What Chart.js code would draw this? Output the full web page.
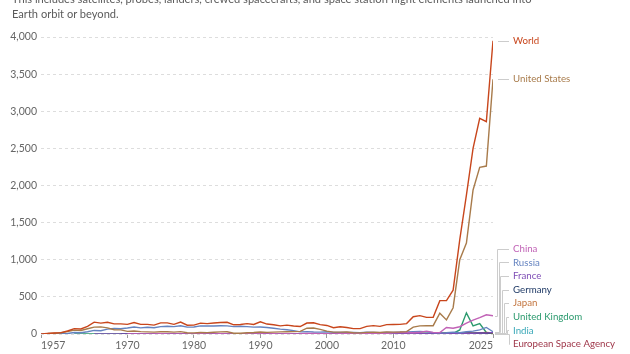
<!DOCTYPE html>
<html>
<head>
<meta charset="utf-8">
<script src="https://cdn.jsdelivr.net/npm/chart.js@4"></script>
<style>
  html, body { margin: 0; padding: 0; background: #fff; }
  #wrap { position: relative; width: 630px; height: 354px; overflow: hidden; }
  #subtitle {
    position: absolute; left: 12px; top: -9px; width: 600px;
    font-family: Lato, sans-serif; font-size: 11.1px; line-height: 15px; color: #5b5b5b;
  }
</style>
</head>
<body>
<div id="wrap">
  <canvas id="chart" width="630" height="354"></canvas>
  <div id="subtitle">This includes satellites, probes, landers, crewed spacecrafts, and space station flight elements launched into<br>Earth orbit or beyond.</div>
</div>
<script>
// Anos (1957 a 2025)
const years = [
  1957, 1958, 1959, 1960, 1961, 1962, 1963, 1964, 1965, 1966, 1967, 1968, 1969,
  1970, 1971, 1972, 1973, 1974, 1975, 1976, 1977, 1978, 1979,
  1980, 1981, 1982, 1983, 1984, 1985, 1986, 1987, 1988, 1989,
  1990, 1991, 1992, 1993, 1994, 1995, 1996, 1997, 1998, 1999,
  2000, 2001, 2002, 2003, 2004, 2005, 2006, 2007, 2008, 2009,
  2010, 2011, 2012, 2013, 2014, 2015, 2016, 2017, 2018, 2019,
  2020, 2021, 2022, 2023, 2024, 2025
];
const xTicks = [1957, 1970, 1980, 1990, 2000, 2010, 2025];
const yTicks = [0, 500, 1000, 1500, 2000, 2500, 3000, 3500, 4000];

// Objetos lançados por ano
const world = [
  2, 8, 14, 19, 40, 72, 68, 104, 160, 147, 158, 137, 136,
  130, 155, 130, 130, 120, 150, 150, 130, 160, 118,
  120, 146, 140, 148, 155, 158, 124, 128, 140, 128,
  165, 134, 125, 110, 120, 108, 101, 148, 152, 127,
  115, 84, 98, 87, 73, 72, 102, 113, 103, 126,
  128, 129, 140, 233, 247, 224, 224, 449, 449, 590,
  1270, 1870, 2500, 2905, 2860, 3950
];
const unitedStates = [
  null, 7, 11, 16, 34, 52, 48, 70, 92, 96, 82, 58, 55,
  35, 40, 32, 28, 25, 30, 30, 25, 32, 16,
  15, 20, 18, 24, 28, 30, 10, 10, 16, 20,
  27, 22, 25, 28, 30, 32, 36, 78, 80, 62,
  38, 25, 25, 26, 16, 15, 22, 25, 20, 28,
  25, 26, 32, 92, 110, 112, 112, 280, 190, 354,
  1000, 1224, 1940, 2245, 2262, 3430
];
const china = [
  null, null, null, null, null, null, null, null, null, null, null, null, null,
  1, 1, 0, 0, 0, 3, 2, 0, 1, 0,
  0, 3, 1, 1, 3, 1, 2, 2, 4, 0,
  5, 1, 3, 1, 5, 2, 3, 6, 6, 5,
  5, 1, 5, 7, 10, 5, 6, 10, 11, 6,
  16, 21, 20, 17, 24, 38, 22, 18, 88, 78,
  98, 145, 188, 220, 258, 245
];
const russia = [
  2, 1, 3, 3, 6, 20, 17, 30, 48, 44, 66, 74, 70,
  80, 95, 82, 90, 85, 100, 105, 100, 110, 92,
  95, 110, 108, 108, 112, 110, 100, 105, 100, 92,
  95, 88, 78, 65, 58, 45, 28, 32, 26, 25,
  30, 22, 22, 20, 20, 18, 25, 22, 16, 20,
  20, 25, 26, 30, 35, 28, 18, 15, 16, 25,
  17, 30, 38, 55, 88, 30
];
const france = [
  null, null, null, null, null, null, null, null, 1, 1, 2, 0, 0,
  1, 1, 0, 0, 0, 3, 0, 0, 0, 0,
  0, 0, 0, 0, 1, 0, 1, 0, 1, 2,
  2, 1, 2, 1, 2, 2, 1, 2, 2, 2,
  2, 2, 2, 1, 5, 2, 2, 2, 2, 4,
  3, 6, 4, 3, 3, 4, 3, 4, 5, 6,
  4, 12, 8, 15, 12, 22
];
const germany = [
  null, null, null, null, null, null, null, null, null, null, null, null, 1,
  0, 0, 1, 1, 1, 1, 1, 0, 0, 0,
  1, 0, 0, 1, 0, 1, 0, 1, 1, 1,
  2, 1, 1, 0, 1, 2, 1, 1, 2, 2,
  3, 2, 1, 2, 1, 2, 3, 4, 3, 2,
  3, 2, 3, 4, 5, 4, 5, 8, 6, 5,
  6, 10, 12, 15, 10, 18
];
const japan = [
  null, null, null, null, null, null, null, null, null, null, null, null, null,
  1, 2, 1, 0, 1, 3, 1, 2, 3, 2,
  2, 3, 1, 3, 3, 2, 3, 3, 2, 2,
  5, 2, 2, 1, 3, 2, 3, 4, 2, 1,
  1, 2, 5, 4, 0, 4, 6, 3, 3, 4,
  6, 4, 8, 5, 12, 8, 9, 10, 12, 14,
  10, 20, 12, 14, 20, 14
];
const unitedKingdom = [
  null, null, null, null, null, 1, 0, 1, 0, 0, 1, 0, 1,
  1, 2, 0, 0, 1, 1, 0, 0, 1, 0,
  0, 1, 0, 0, 1, 0, 0, 0, 1, 2,
  1, 2, 1, 1, 1, 2, 1, 2, 3, 4,
  3, 2, 3, 4, 2, 4, 3, 4, 3, 5,
  5, 4, 6, 8, 10, 6, 8, 12, 10, 8,
  55, 285, 110, 140, 20, 10
];
const india = [
  null, null, null, null, null, null, null, null, null, null, null, null, null,
  null, null, null, null, null, 1, 0, 0, 0, 1,
  1, 2, 1, 1, 0, 0, 0, 1, 2, 0,
  1, 1, 1, 1, 1, 1, 1, 2, 1, 1,
  1, 2, 2, 2, 1, 2, 1, 2, 3, 3,
  2, 4, 3, 3, 4, 6, 8, 7, 8, 6,
  2, 3, 6, 7, 5, 6
];
const esa = [
  null, null, null, null, null, null, null, null, null, null, null, null, null,
  null, null, null, null, null, 1, 0, 2, 2, 0,
  0, 1, 0, 2, 1, 1, 0, 0, 1, 2,
  1, 1, 0, 1, 0, 2, 0, 0, 1, 1,
  2, 1, 1, 2, 1, 1, 0, 0, 1, 2,
  0, 0, 1, 1, 2, 1, 1, 0, 2, 1,
  0, 1, 0, 2, 1, 2
];

const seriesNames = ['World', 'United States', 'China', 'Russia', 'France', 'Germany', 'Japan', 'United Kingdom', 'India', 'European Space Agency'];
const seriesData = [world, unitedStates, china, russia, france, germany, japan, unitedKingdom, india, esa];
const seriesColors = ['#c8461c', '#a87b4b', '#c162b6', '#6483c0', '#7e4db5', '#1f3a66', '#c3753f', '#2b9a6e', '#3aa8b8', '#9e3548'];

const FONT = 'Lato, sans-serif';

// Rótulos no fim das linhas, com linhas-guia
const endLabels = {
  id: 'endLabels',
  afterDatasetsDraw(chart) {
    const { ctx, chartArea, scales: { x, y } } = chart;
    const lastYear = years[years.length - 1];
    const px = x.getPixelForValue(lastYear);
    const items = seriesNames.map((name, i) => ({
      name,
      color: seriesColors[i],
      py: y.getPixelForValue(seriesData[i][seriesData[i].length - 1])
    }));
    items.sort((a, b) => a.py - b.py);

    const gap = 13.6;
    let prev = -Infinity;
    items.forEach(it => { it.ly = Math.max(it.py, prev + gap); prev = it.ly; });
    let next = chartArea.bottom + 10 + gap;
    for (let i = items.length - 1; i >= 0; i--) {
      items[i].ly = Math.min(items[i].ly, next - gap);
      next = items[i].ly;
    }

    const labelX = px + 20;
    ctx.save();
    ctx.strokeStyle = '#cccccc';
    ctx.lineWidth = 1;
    let k = 0;
    items.forEach(it => {
      ctx.beginPath();
      if (Math.abs(it.ly - it.py) < 1) {
        ctx.moveTo(px + 5, Math.round(it.ly) + 0.5);
        ctx.lineTo(labelX - 4, Math.round(it.ly) + 0.5);
      } else {
        const ex = Math.round(px + 4 + k * 1.7) + 0.5;
        ctx.moveTo(px + 2, Math.round(it.py) + 0.5);
        ctx.lineTo(ex, Math.round(it.py) + 0.5);
        ctx.lineTo(ex, Math.round(it.ly) + 0.5);
        ctx.lineTo(labelX - 4, Math.round(it.ly) + 0.5);
        k++;
      }
      ctx.stroke();
    });
    ctx.font = '9.7px ' + FONT;
    ctx.textBaseline = 'middle';
    ctx.textAlign = 'left';
    items.forEach(it => {
      ctx.fillStyle = it.color;
      ctx.fillText(it.name, labelX, it.ly);
    });
    ctx.restore();
  }
};

new Chart(document.getElementById('chart'), {
  type: 'line',
  data: {
    labels: years,
    datasets: seriesNames.map((name, i) => ({
      label: name,
      data: seriesData[i].map((v, j) => ({ x: years[j], y: v })),
      borderColor: seriesColors[i],
      backgroundColor: seriesColors[i],
      borderWidth: 1.4,
      pointRadius: 0,
      tension: 0,
      spanGaps: false
    }))
  },
  options: {
    responsive: false,
    animation: false,
    devicePixelRatio: 1,
    layout: { padding: { top: 37, right: 137, left: 0, bottom: 0 } },
    plugins: {
      legend: { display: false },
      tooltip: { enabled: false }
    },
    scales: {
      x: {
        type: 'linear',
        min: 1957,
        max: 2025,
        afterBuildTicks: scale => { scale.ticks = xTicks.map(v => ({ value: v })); },
        afterFit: scale => { scale.height = 20; },
        ticks: {
          align: 'inner',
          maxRotation: 0,
          autoSkip: false,
          padding: 1,
          color: '#666',
          font: { family: FONT, size: 10.5 },
          callback: v => String(v)
        },
        grid: { drawOnChartArea: false, drawTicks: true, tickLength: 4, color: '#999' },
        border: { display: false }
      },
      y: {
        min: 0,
        max: 4000,
        afterBuildTicks: scale => { scale.ticks = yTicks.map(v => ({ value: v })); },
        afterFit: scale => { scale.width = 41; },
        ticks: {
          padding: 4,
          color: '#666',
          font: { family: FONT, size: 10.5 },
          callback: v => v.toLocaleString('en-US')
        },
        grid: { drawTicks: false, color: '#dddddd' },
        border: { display: false, dash: [3, 3] }
      }
    }
  },
  plugins: [endLabels]
});
</script>
</body>
</html>
